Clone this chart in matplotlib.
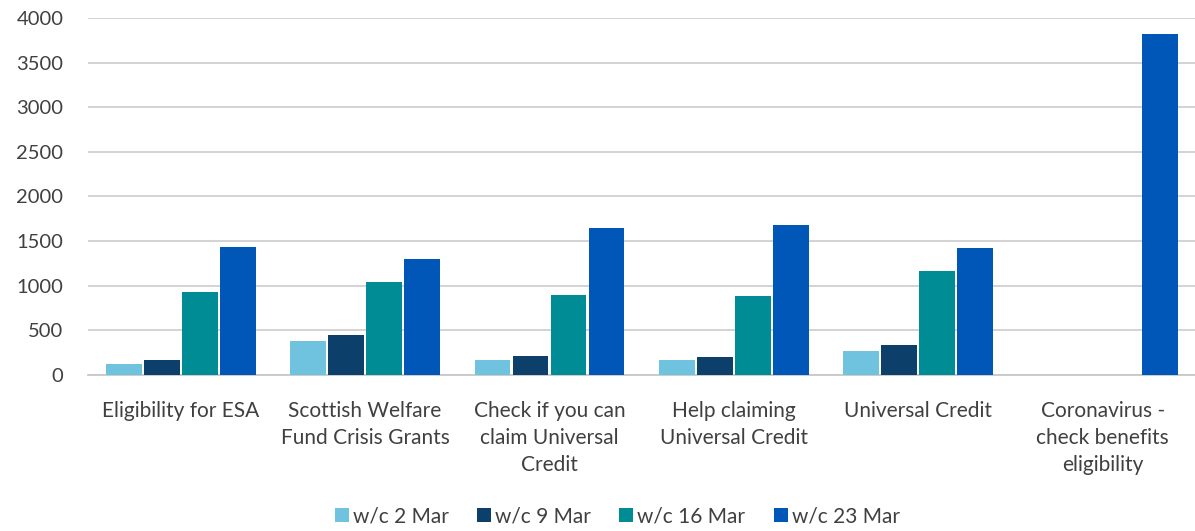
import matplotlib.pyplot as plt
import numpy as np

plt.rcParams['font.family'] = ['Lato', 'DejaVu Sans']

categories = ['Eligibility for ESA', 'Scottish Welfare\nFund Crisis Grants',
              'Check if you can\nclaim Universal\nCredit', 'Help claiming\nUniversal Credit',
              'Universal Credit', 'Coronavirus -\ncheck benefits\neligibility']
series_names = ['w/c 2 Mar', 'w/c 9 Mar', 'w/c 16 Mar', 'w/c 23 Mar']
wc_2_mar = [125, 385, 170, 170, 265, np.nan]
wc_9_mar = [170, 450, 215, 195, 335, np.nan]
wc_16_mar = [925, 1040, 900, 880, 1160, np.nan]
wc_23_mar = [1435, 1300, 1650, 1675, 1420, 3820]

colors = ['#6fc3df', '#0d3f6b', '#008c95', '#0057b8']
values = [wc_2_mar, wc_9_mar, wc_16_mar, wc_23_mar]

fig = plt.figure(figsize=(11.95, 5.31), dpi=100)
ax = fig.add_axes([0.074, 0.294, 0.926, 0.672])

x = np.arange(len(categories))
step = 0.206
width = 0.195
for i, (vals, col, name) in enumerate(zip(values, colors, series_names)):
    ax.bar(x + (i - 1.5) * step, vals, width, color=col, label=name, zorder=3)

ax.set_xlim(-0.5, len(categories) - 0.5)
ax.set_ylim(0, 4000)
ax.set_yticks(np.arange(0, 4001, 500))
ax.yaxis.grid(True, color='#d0d0d0', linewidth=1.3, zorder=0)
for s in ['top', 'right', 'left']:
    ax.spines[s].set_visible(False)
ax.spines['bottom'].set_color('#c8c8c8')
ax.spines['bottom'].set_linewidth(1.3)
ax.tick_params(axis='both', length=0, colors='#404040')
ax.tick_params(axis='y', labelsize=14.5, pad=18)
ax.tick_params(axis='x', labelsize=15, pad=19)
ax.set_xticks(x)
ax.set_xticklabels(categories, linespacing=1.42, va='top')

ax.legend(loc='center', bbox_to_anchor=(0.478, -0.397), ncol=4, frameon=False,
          fontsize=15, handlelength=0.67, handleheight=0.67, handletextpad=0.2,
          columnspacing=1.35, labelcolor='#404040')

fig.savefig('out.png', dpi=100, facecolor='white')
